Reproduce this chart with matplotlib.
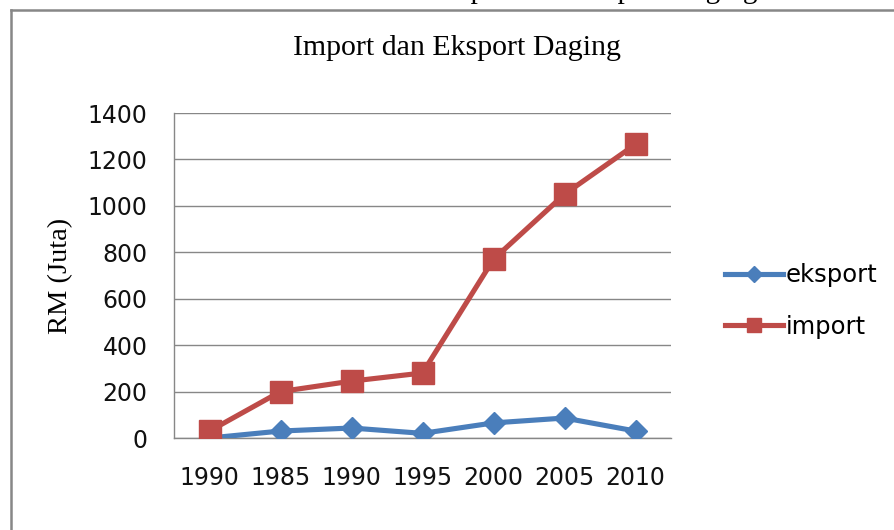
import matplotlib
matplotlib.use("Agg")
import matplotlib.pyplot as plt
from matplotlib.lines import Line2D

years = ["1990", "1985", "1990", "1995", "2000", "2005", "2010"]
eksport = [0, 30, 43, 20, 65, 86, 30]
impor = [30, 200, 245, 280, 770, 1050, 1265]

caption = "Carta 1: Statistik Nilai Import dan Eksport Daging"
title = "Import dan Eksport Daging"
ylabel = "RM (Juta)"

W, H = 894, 530
fig = plt.figure(figsize=(W / 100, H / 100), dpi=100)

# outer frame (cropped chart border)
fig.add_artist(Line2D([11 / W, 11 / W], [0, 1 - 9.5 / H], transform=fig.transFigure,
                      color="#878787", lw=1.8))
fig.add_artist(Line2D([11 / W, 1], [1 - 9.5 / H, 1 - 9.5 / H], transform=fig.transFigure,
                      color="#878787", lw=1.8))

# cropped caption above the chart
fig.text(757 / W, 1 + 1.5 / H, caption, ha="right", va="baseline",
         family="Liberation Serif", fontsize=21, color="black")

ax = fig.add_axes([174 / W, (H - 438) / H, (671 - 174) / W, (438 - 113) / H])
x = range(len(years))
blue = "#4A7EBB"
red = "#BE4B48"
ax.plot(x, eksport, color=blue, lw=3.7, marker="D", markersize=11.5,
        markeredgecolor=blue, solid_capstyle="round", zorder=3)
ax.plot(x, impor, color=red, lw=3.7, marker="s", markersize=16.5,
        markeredgecolor=red, solid_capstyle="round", zorder=4)

ax.set_xlim(-0.5, len(years) - 0.5)
ax.set_ylim(0, 1400)
ax.set_yticks(range(0, 1401, 200))
ax.set_xticks(list(x))
ax.set_xticklabels(years)
ax.grid(axis="y", color="#878787", lw=1)
ax.set_axisbelow(True)
for s in ["top", "right"]:
    ax.spines[s].set_visible(False)
for s in ["left", "bottom"]:
    ax.spines[s].set_color("#878787")
    ax.spines[s].set_linewidth(1)
ax.tick_params(length=0, labelsize=17, colors="#111111")
ax.tick_params(axis="y", pad=19)
ax.tick_params(axis="x", pad=20)
for lab in ax.get_xticklabels() + ax.get_yticklabels():
    lab.set_family("DejaVu Sans")

fig.text(457 / W, 1 - 48 / H, title, ha="center", va="center",
         family="Liberation Serif", fontsize=21.5)
fig.text(61 / W, 1 - 276 / H, ylabel, ha="center", va="center", rotation=90,
         family="Liberation Serif", fontsize=20.5)

handles = [
    Line2D([], [], color=blue, lw=3.7, marker="D", markersize=8),
    Line2D([], [], color=red, lw=3.7, marker="s", markersize=10),
]
leg = fig.legend(handles, ["eksport", "import"], loc="center left",
                 bbox_to_anchor=(715 / W, 1 - 301 / H), frameon=False,
                 prop={"family": "DejaVu Sans", "size": 17.5}, handlelength=2.4,
                 handletextpad=0.1, labelspacing=1.15, borderaxespad=0)

fig.savefig("out.png", dpi=100)
